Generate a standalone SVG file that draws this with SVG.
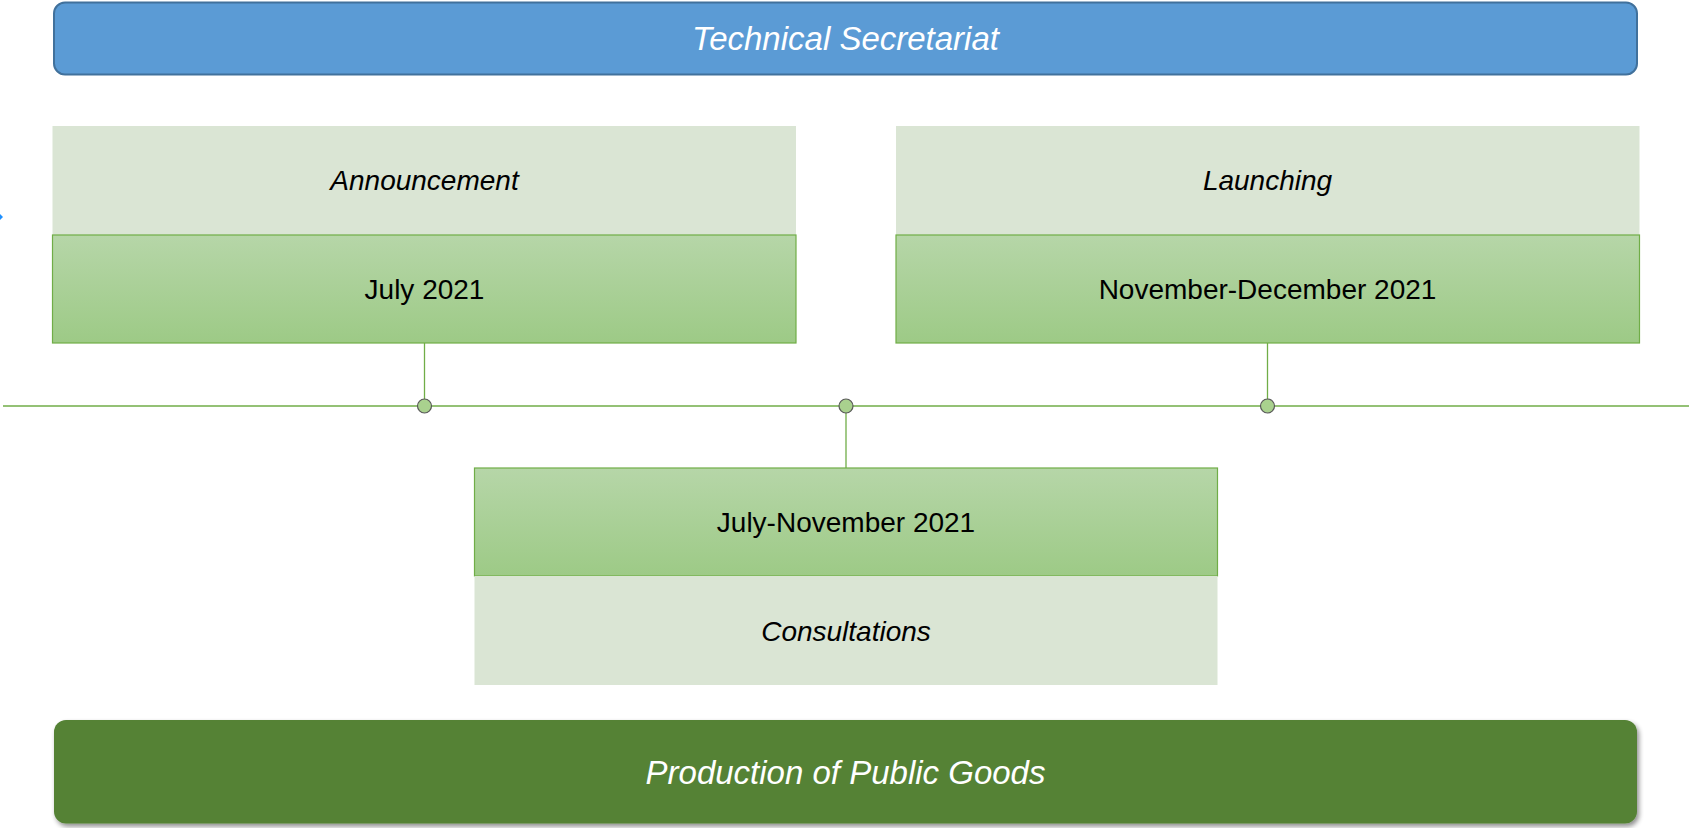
<svg xmlns="http://www.w3.org/2000/svg" width="1691" height="828" viewBox="0 0 1691 828">
<style>
.lbl{font-family:"Liberation Sans","Open Sans",Arial,sans-serif;text-anchor:middle}
.it{font-style:italic}
.light{fill:#DAE5D4}
.dark{fill:url(#g);stroke:#70AD47;stroke-width:1.2}
.conn{stroke:#70AD47;stroke-width:1.3;fill:none}
.dot{fill:#A9D18E;stroke:#595959;stroke-width:1.2}
</style>
<defs>
<linearGradient id="g" x1="0" y1="0" x2="0" y2="1">
<stop offset="0" stop-color="#B6D6A8"/>
<stop offset="1" stop-color="#9DCA86"/>
</linearGradient>
<filter id="sh" x="-5%" y="-20%" width="110%" height="150%">
<feGaussianBlur in="SourceAlpha" stdDeviation="2.5"/>
<feOffset dx="2" dy="3" result="b"/>
<feComponentTransfer><feFuncA type="linear" slope="0.45"/></feComponentTransfer>
<feMerge><feMergeNode/><feMergeNode in="SourceGraphic"/></feMerge>
</filter>
</defs>
<rect width="1691" height="828" fill="#FFFFFF"/>
<path d="M0,214 L3,217 L0,220 Z" fill="#1E90FF"/>

<g id="connectors">
<line class="conn" x1="3" y1="406" x2="1689" y2="406"/>
<line class="conn" x1="424.5" y1="343" x2="424.5" y2="406"/>
<line class="conn" x1="1267.5" y1="343" x2="1267.5" y2="406"/>
<line class="conn" x1="846" y1="406" x2="846" y2="468"/>
<circle class="dot" cx="424.5" cy="406" r="7"/>
<circle class="dot" cx="846" cy="406" r="7"/>
<circle class="dot" cx="1267.5" cy="406" r="7"/>
</g>

<g id="technical-secretariat">
<rect x="54" y="2.5" width="1583" height="72" rx="11" fill="#5B9BD5" stroke="#41719C" stroke-width="2"/>
<text class="lbl it" x="845.5" y="50" font-size="33" fill="#FFFFFF">Technical Secretariat</text>
</g>

<g id="announcement">
<rect class="light" x="52.5" y="126" width="743.5" height="109"/>
<rect class="dark" x="52.5" y="235" width="743.5" height="108"/>
<text class="lbl it" x="424.5" y="190" font-size="28" fill="#000000">Announcement</text>
<text class="lbl" x="424.5" y="299" font-size="28" fill="#000000">July 2021</text>
</g>

<g id="launching">
<rect class="light" x="896" y="126" width="743.5" height="109"/>
<rect class="dark" x="896" y="235" width="743.5" height="108"/>
<text class="lbl it" x="1267.5" y="190" font-size="28" fill="#000000">Launching</text>
<text class="lbl" x="1267.5" y="299" font-size="28" fill="#000000">November-December 2021</text>
</g>

<g id="consultations">
<rect class="dark" x="474.5" y="468" width="743" height="108"/>
<rect class="light" x="474.5" y="576" width="743" height="109"/>
<text class="lbl" x="846" y="532" font-size="28" fill="#000000">July-November 2021</text>
<text class="lbl it" x="846" y="641" font-size="28" fill="#000000">Consultations</text>
</g>

<g id="production-of-public-goods">
<rect x="54" y="720" width="1583" height="103.5" rx="12" fill="#548235" filter="url(#sh)"/>
<text class="lbl it" x="845.5" y="784" font-size="33" fill="#FFFFFF">Production of Public Goods</text>
</g>
</svg>
